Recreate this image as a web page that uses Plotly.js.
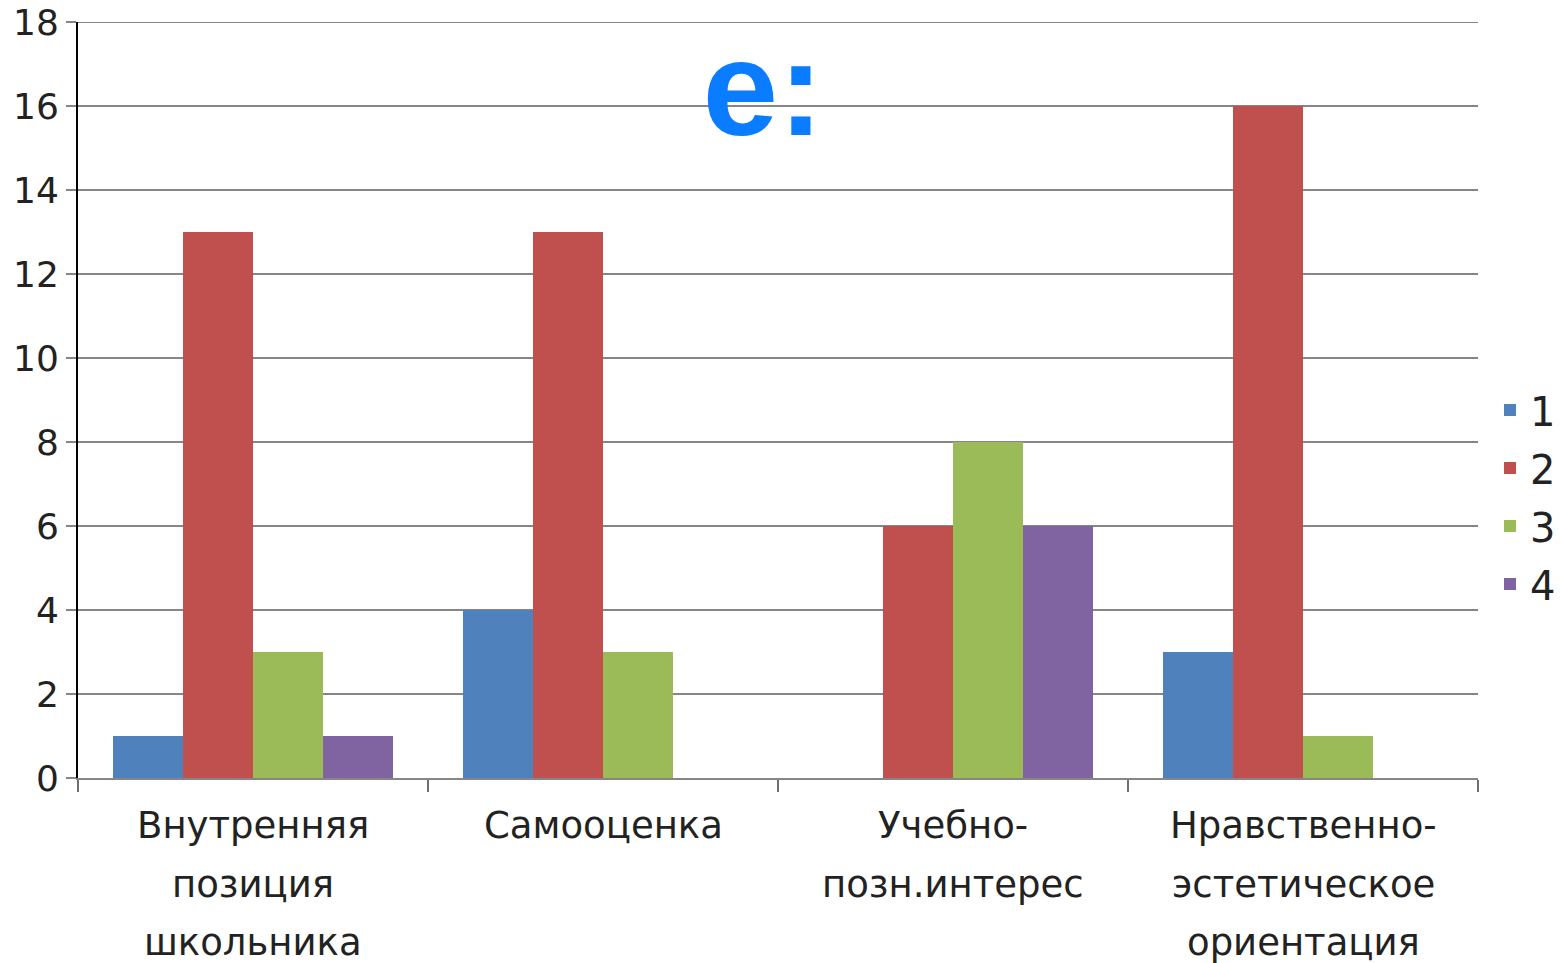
<!DOCTYPE html>
<html>
<head>
<meta charset="utf-8">
<script src="https://cdn.plot.ly/plotly-3.0.1.min.js"></script>
<style>html,body{margin:0;padding:0;background:#fff;}#chart{width:1561px;height:963px;}</style>
</head>
<body>
<div id="chart"></div>
<script>
const categories = ["Внутренняя<br>позиция<br>школьника", "Самооценка", "Учебно-<br>позн.интерес", "Нравственно-<br>эстетическое<br>ориентация"];
const seriesNames = ["1", "2", "3", "4"];
const series1 = [1, 4, 0, 3];
const series2 = [13, 13, 6, 16];
const series3 = [3, 3, 8, 1];
const series4 = [1, 0, 6, 0];
const yTicks = [0, 2, 4, 6, 8, 10, 12, 14, 16, 18];
const yMax = 18;
const titleText = "е:";

const colors = ["#4F81BD", "#C0504D", "#9BBB59", "#8064A2"];
const values = [series1, series2, series3, series4];

const traces = values.map((v, i) => ({
  type: "bar",
  name: seriesNames[i],
  legendgroup: "g" + i,
  x: categories,
  y: v,
  marker: {color: colors[i], line: {width: 0}},
  hoverinfo: "x+y"
}));

const annotations = [];
const lineY = [825, 884, 942];
categories.forEach(c => {
  c.split("<br>").forEach((line, k) => {
    annotations.push({
      text: line, xref: "x", x: c, yref: "paper",
      y: (778 - lineY[k]) / 756, yanchor: "middle", xanchor: "center",
      showarrow: false,
      font: {family: "DejaVu Sans", size: 37, color: "#222"}
    });
  });
});

const layout = {
  width: 1561, height: 963,
  margin: {l: 78, r: 83, t: 22, b: 185},
  paper_bgcolor: "#fff", plot_bgcolor: "#fff",
  bargap: 0.2, bargroupgap: 0,
  title: {
    text: titleText, xref: "container", yref: "container",
    x: 763 / 1561, xanchor: "center", y: 1 - 87 / 963, yanchor: "middle",
    font: {family: "Liberation Sans", size: 136, color: "#0A7CFF", weight: "bold"}
  },
  xaxis: {
    type: "category",
    showticklabels: false,
    ticks: "outside", tickson: "boundaries", ticklen: 12, tickwidth: 2, tickcolor: "#6e6e6e",
    showline: true, linecolor: "#868686", linewidth: 2,
    showgrid: false, zeroline: false, fixedrange: true
  },
  yaxis: {
    range: [0, yMax], tickvals: yTicks,
    ticks: "outside", ticklen: 10, tickwidth: 2, tickcolor: "#868686",
    showgrid: true, gridcolor: "#868686", gridwidth: 2,
    showline: true, linecolor: "#000", linewidth: 2,
    zeroline: false,
    tickfont: {family: "DejaVu Sans", size: 36, color: "#222"},
    ticklabelstandoff: 0,
    fixedrange: true
  },
  shapes: [{
    type: "line", xref: "paper", x0: 0, x1: 1, yref: "y", y0: yMax, y1: yMax,
    line: {color: "#868686", width: 2}, layer: "below"
  }],
  legend: {
    xref: "container", yref: "container",
    x: 1490 / 1561, xanchor: "left", y: 1 - 497 / 963, yanchor: "middle",
    font: {family: "DejaVu Sans", size: 40, color: "#222"},
    itemwidth: 30, tracegroupgap: 3, bgcolor: "rgba(0,0,0,0)"
  },
  annotations: annotations,
  showlegend: true
};

Plotly.newPlot("chart", traces, layout, {displayModeBar: false, staticPlot: true});
</script>
</body>
</html>
